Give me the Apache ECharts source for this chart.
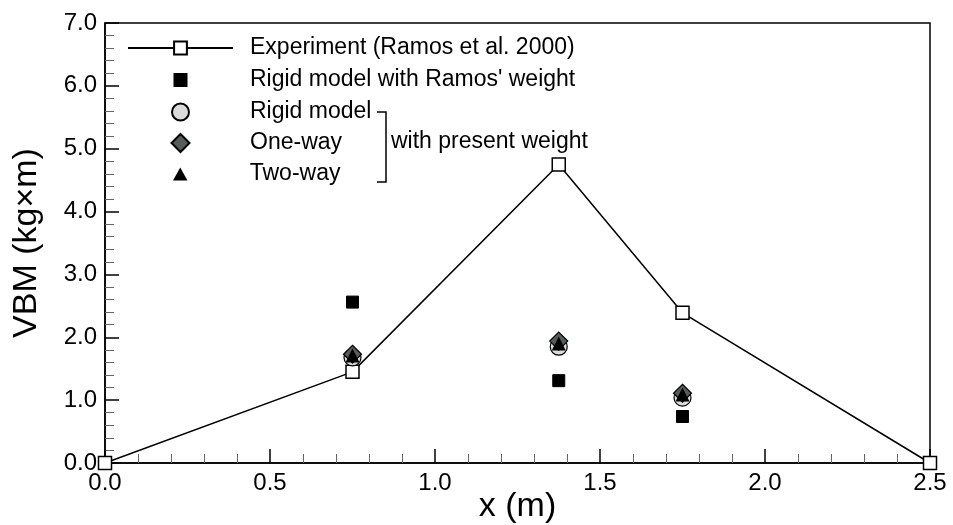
<!DOCTYPE html>
<html>
<head>
<meta charset="utf-8">
<script src="https://cdn.jsdelivr.net/npm/echarts@6/dist/echarts.min.js"></script>
<style>
  html, body { margin: 0; padding: 0; background: #fff; }
  #chart { width: 953px; height: 525px; }
</style>
</head>
<body>
<div id="chart"></div>
<script>
// Measured stations along the hull (m) and vertical bending moment (kg×m)
var expX = [0, 0.75, 1.375, 1.75, 2.5];
var experiment = [0, 1.45, 4.75, 2.39, 0];

// Simulated stations
var simX = [0.75, 1.375, 1.75];
var rigidRamos = [2.56, 1.31, 0.74];
var rigidModel = [1.68, 1.85, 1.04];
var oneWay = [1.73, 1.94, 1.11];
var twoWay = [1.71, 1.90, 1.09];

var seriesNames = [
  'Experiment (Ramos et al. 2000)',
  "Rigid model with Ramos' weight",
  'Rigid model',
  'One-way',
  'Two-way'
];

var xTicks = { min: 0, max: 2.5, step: 0.5 };
var yTicks = { min: 0, max: 7, step: 1 };

function pairs(xs, ys) {
  return xs.map(function (x, i) { return [x, ys[i]]; });
}

var FONT = 'Liberation Sans, Arial, Helvetica, sans-serif';

// Legend glyphs as vector paths so they keep their aspect ratio
var ICONS = {
  square: 'path://M0,0L10,0L10,10L0,10Z',
  circle: 'path://M0,5A5,5 0 1,0 10,5A5,5 0 1,0 0,5Z',
  diamond: 'path://M5,0L10,5L5,10L0,5Z',
  triangle: 'path://M5,0L10,9L0,9Z'
};

var LEGEND_LEFT = 127;
var LEGEND_SLOT = 105;

// One legend block per row so each symbol keeps its own size
var legendRows = [
  { name: seriesNames[0], center: 48, h: 16, icon: null },
  { name: seriesNames[1], center: 80, h: 12, icon: ICONS.square },
  { name: seriesNames[2], center: 112, h: 17, icon: ICONS.circle },
  { name: seriesNames[3], center: 143, h: 18, icon: ICONS.diamond },
  { name: seriesNames[4], center: 174, h: 13, icon: ICONS.triangle }
];

var legends = legendRows.map(function (r) {
  var item = { name: r.name };
  if (r.icon) item.icon = r.icon;
  // a lone glyph is centred in the same slot the line sample occupies
  var left = r.icon ? LEGEND_LEFT + (LEGEND_SLOT - r.h) / 2 : LEGEND_LEFT;
  return {
    data: [item],
    orient: 'vertical',
    left: left,
    top: r.center - 12,
    padding: 0,
    itemWidth: LEGEND_SLOT,
    itemHeight: r.h,
    symbolKeepAspect: true,
    selectedMode: false,
    textStyle: {
      fontFamily: FONT,
      fontSize: 23,
      lineHeight: 24,
      color: '#000',
      padding: [0, 0, 0, 12]
    }
  };
});

var axisCommon = {
  axisLine: { show: true, onZero: false, lineStyle: { color: '#000', width: 1.5 } },
  axisTick: { show: true, inside: true, length: 14, lineStyle: { color: '#000', width: 1.5 } },
  minorTick: { show: true, splitNumber: 5, length: 9, lineStyle: { color: '#666', width: 1 } },
  splitLine: { show: false },
  axisLabel: {
    fontFamily: FONT,
    fontSize: 24,
    color: '#000',
    margin: 8,
    formatter: function (v) { return v.toFixed(1); }
  },
  nameLocation: 'middle',
  nameTextStyle: { fontFamily: FONT, fontSize: 34, color: '#000' }
};

var option = {
  backgroundColor: '#fff',
  animation: false,
  grid: {
    left: 105, right: 23, top: 23, bottom: 62,
    outerBoundsMode: 'none',
    containLabel: false,
    show: true, borderColor: '#000', borderWidth: 1.5, backgroundColor: 'transparent'
  },
  legend: legends,
  xAxis: Object.assign({}, axisCommon, {
    type: 'value',
    min: xTicks.min, max: xTicks.max, interval: xTicks.step,
    name: 'x (m)',
    nameGap: 27,
    nameMoveOverlap: false
  }),
  yAxis: Object.assign({}, axisCommon, {
    type: 'value',
    min: yTicks.min, max: yTicks.max, interval: yTicks.step,
    name: 'VBM (kg×m)',
    nameGap: 61
  }),
  graphic: [
    {
      type: 'polyline',
      shape: { points: [[377, 112], [386, 112], [386, 182], [377, 182]] },
      style: { stroke: '#000', lineWidth: 1.5, fill: null },
      z: 100
    },
    {
      type: 'text',
      left: 391,
      top: 130,
      style: { text: 'with present weight', font: '23px ' + FONT, fill: '#000' },
      z: 100
    }
  ],
  series: [
    {
      name: seriesNames[0],
      type: 'line',
      data: pairs(expX, experiment),
      symbol: 'rect',
      symbolSize: 13,
      showAllSymbol: true,
      lineStyle: { color: '#000', width: 1.5 },
      itemStyle: { color: '#fff', borderColor: '#000', borderWidth: 1.5, opacity: 1 },
      z: 2
    },
    {
      name: seriesNames[1],
      type: 'scatter',
      data: pairs(simX, rigidRamos),
      symbol: 'rect',
      symbolSize: 12,
      itemStyle: { color: '#000', borderColor: '#000', borderWidth: 1, opacity: 1 },
      z: 3
    },
    {
      name: seriesNames[2],
      type: 'scatter',
      data: pairs(simX, rigidModel),
      symbol: 'circle',
      symbolSize: 17,
      itemStyle: { color: '#dadcd9', borderColor: '#000', borderWidth: 1.2, opacity: 1 },
      z: 4
    },
    {
      name: seriesNames[3],
      type: 'scatter',
      data: pairs(simX, oneWay),
      symbol: 'diamond',
      symbolSize: 18,
      itemStyle: { color: '#565b5c', borderColor: '#000', borderWidth: 1.2, opacity: 1 },
      z: 5
    },
    {
      name: seriesNames[4],
      type: 'scatter',
      data: pairs(simX, twoWay),
      symbol: 'triangle',
      symbolSize: 14,
      itemStyle: { color: '#000', opacity: 1 },
      z: 6
    }
  ]
};

var chart = echarts.init(document.getElementById('chart'), null, { renderer: 'canvas' });
chart.setOption(option);
</script>
</body>
</html>
